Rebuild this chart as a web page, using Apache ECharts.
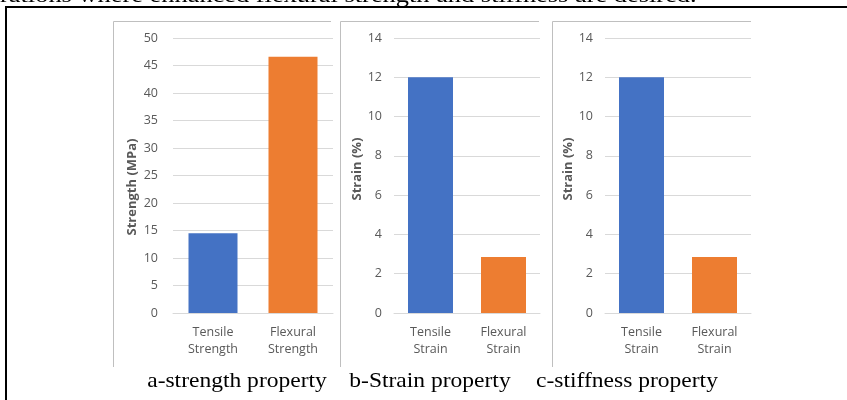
<!DOCTYPE html>
<html>
<head>
<meta charset="utf-8">
<script src="https://cdn.jsdelivr.net/npm/echarts@6/dist/echarts.min.js"></script>
<style>
  html, body { margin: 0; padding: 0; background: #fff; }
  #chart { width: 847px; height: 400px; }
</style>
</head>
<body>
<div id="chart"></div>
<script>
// Mechanical property comparison: strength, strain and stiffness panels
const strengthCategories = ['Tensile\nStrength', 'Flexural\nStrength'];
const strengthValues = [14.5, 46.6];
const strainCategories = ['Tensile\nStrain', 'Flexural\nStrain'];
const strainValues = [12, 2.85];
const stiffnessCategories = ['Tensile\nStrain', 'Flexural\nStrain'];
const stiffnessValues = [12, 2.85];
const barColors = ['#4472C4', '#ED7D31'];
const axisTitles = ['Strength (MPa)', 'Strain (%)', 'Strain (%)'];
const captions = ['a-strength property', 'b-Strain property', 'c-stiffness property'];
const leadText = 'rations where enhanced flexural strength and stiffness are desired.';

const textGray = '#595959';
const gridGray = '#D9D9D9';
const frameGray = '#BFBFBF';
const labelFont = '"Open Sans", "Noto Sans", sans-serif';
const serifFont = '"Liberation Serif", "DejaVu Serif", serif';

const panels = [
  { cats: strengthCategories, vals: strengthValues, max: 50, step: 5,
    grid: { left: 173, top: 38, width: 160, height: 275 }, barWidth: 49, labelMargin: 15 },
  { cats: strainCategories, vals: strainValues, max: 14, step: 2,
    grid: { left: 394, top: 38, width: 146, height: 275 }, barWidth: 45, labelMargin: 12 },
  { cats: stiffnessCategories, vals: stiffnessValues, max: 14, step: 2,
    grid: { left: 605, top: 38, width: 146, height: 275 }, barWidth: 45, labelMargin: 12 }
];

// Panel frames (top and left edges only) and axis titles
const frames = [
  { x: 113, right: 331 },
  { x: 340, right: 539 },
  { x: 552, right: 751 }
];
const titlePos = [[132, 187], [357, 169], [568, 169]];
const captionPos = [237, 430, 627];

const graphics = [];
// outer page border
graphics.push({ type: 'rect', shape: { x: 6, y: 7, width: 900, height: 500 },
  style: { fill: 'none', stroke: '#000', lineWidth: 2 }, silent: true });
// body text line above the figure box, mostly cut off by the top edge
graphics.push({ type: 'text', x: 0, y: 7, scaleX: 1.32,
  style: { text: leadText, font: '20px ' + serifFont, fill: '#000',
    align: 'left', verticalAlign: 'bottom' } });

frames.forEach(function (f) {
  graphics.push({ type: 'polyline', shape: { points: [[f.x + 0.5, 367], [f.x + 0.5, 21.5], [f.right, 21.5]] },
    style: { stroke: frameGray, lineWidth: 1, fill: 'none' }, silent: true });
});
axisTitles.forEach(function (t, i) {
  graphics.push({ type: 'text', x: titlePos[i][0], y: titlePos[i][1], rotation: Math.PI / 2,
    style: { text: t, font: 'bold 13px ' + labelFont, fill: textGray,
      align: 'center', verticalAlign: 'middle' } });
});
captions.forEach(function (c, i) {
  graphics.push({ type: 'text', x: captionPos[i], y: 381, scaleX: 1.12,
    style: { text: c, font: '21px ' + serifFont, fill: '#000',
      align: 'center', verticalAlign: 'middle' } });
});

const option = {
  animation: false,
  backgroundColor: '#fff',
  grid: panels.map(function (p) { return Object.assign({ containLabel: false }, p.grid); }),
  xAxis: panels.map(function (p, i) {
    return {
      type: 'category', gridIndex: i, data: p.cats,
      axisLine: { lineStyle: { color: gridGray, width: 1 } },
      axisTick: { show: false },
      axisLabel: { color: textGray, fontFamily: labelFont, fontSize: 12.5, lineHeight: 17, margin: 11, interval: 0 }
    };
  }),
  yAxis: panels.map(function (p, i) {
    return {
      type: 'value', gridIndex: i, min: 0, max: p.max, interval: p.step,
      axisLine: { show: false }, axisTick: { show: false },
      splitLine: { lineStyle: { color: gridGray, width: 1 } },
      axisLabel: { color: textGray, fontFamily: labelFont, fontSize: 12.5, margin: p.labelMargin }
    };
  }),
  series: panels.map(function (p, i) {
    return {
      type: 'bar', xAxisIndex: i, yAxisIndex: i, barWidth: p.barWidth,
      data: p.vals.map(function (v, j) { return { value: v, itemStyle: { color: barColors[j] } }; })
    };
  }),
  graphic: graphics
};

const chart = echarts.init(document.getElementById('chart'), null, { renderer: 'canvas' });
chart.setOption(option);
</script>
</body>
</html>
